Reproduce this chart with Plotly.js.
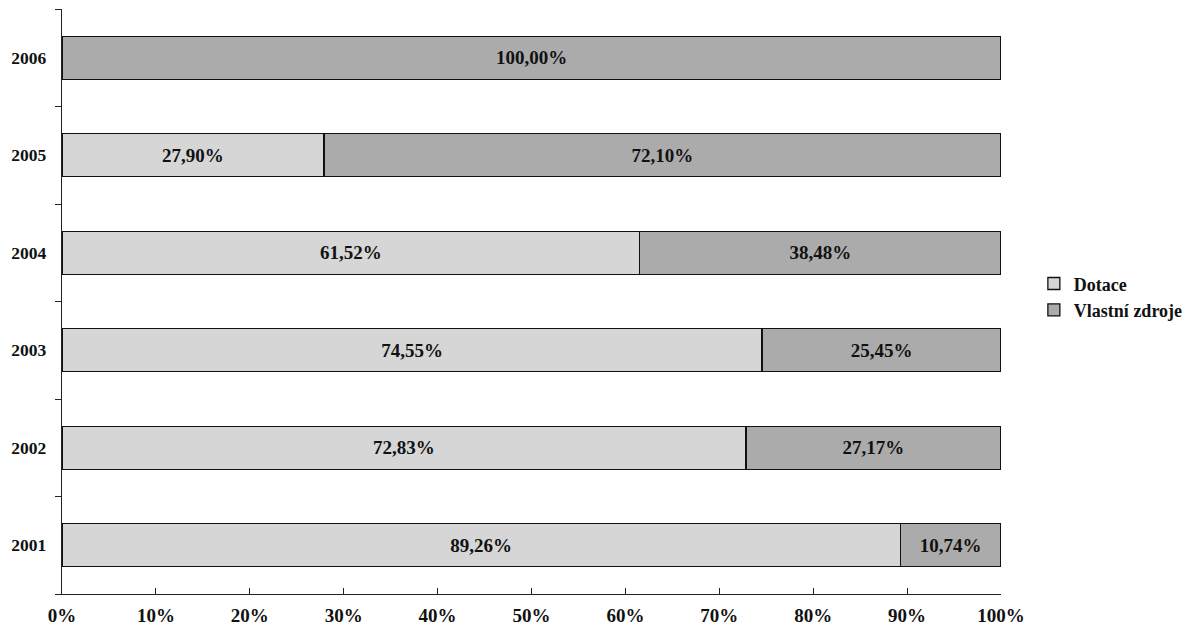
<!DOCTYPE html>
<html><head><meta charset="utf-8">
<script src="https://cdn.plot.ly/plotly-3.0.1.min.js"></script>
<style>body{margin:0;background:#fff}#c{width:1189px;height:626px}</style>
</head><body><div id="c"></div>
<script>
const years = ['2001','2002','2003','2004','2005','2006'];
const dotace = [89.26, 72.83, 74.55, 61.52, 27.90, 0];
const vlastni = [10.74, 27.17, 25.45, 38.48, 72.10, 100.00];
const xTicks = [0,10,20,30,40,50,60,70,80,90,100];
const fmt = v => v.toFixed(2).replace('.', ',') + '%';
const font = {family: 'Liberation Serif, Times New Roman, serif', size: 19, color: '#111'};
const common = {type:'bar', orientation:'h', y: years, textposition:'inside', insidetextanchor:'middle',
  textfont: {family: font.family, size: 19, color: '#111'}, hoverinfo:'skip', constraintext:'none'};
const traces = [
  Object.assign({}, common, {name:'<b>Dotace</b>', x: dotace, text: dotace.map(v => v > 0 ? '<b>'+fmt(v)+'</b>' : ''),
    marker:{color:'#d6d6d6', line:{color:'#111', width:1.3}}}),
  Object.assign({}, common, {name:'<b>Vlastní zdroje</b>', x: vlastni, text: vlastni.map(v => v > 0 ? '<b>'+fmt(v)+'</b>' : ''),
    marker:{color:'#ababab', line:{color:'#111', width:1.3}}})
];
const layout = {
  width:1189, height:626, barmode:'stack', bargap:0.56,
  margin:{l:62, r:188, t:9, b:32, autoexpand:false},
  paper_bgcolor:'#fff', plot_bgcolor:'#fff',
  font: font,
  showlegend:true,
  legend:{x:1.035, y:0.508, xanchor:'left', yanchor:'middle', font:{family:font.family, size:18, color:'#111'},
    traceorder:'normal', itemwidth:30},
  xaxis:{range:[0,100], tickvals:xTicks, ticktext:xTicks.map(v => '<b>'+v+'%</b>'),
    showgrid:false, zeroline:false, showline:true, linecolor:'#222', linewidth:1.2,
    ticks:'inside', ticklen:6, tickcolor:'#222', tickfont:{family:font.family, size:19, color:'#111'},
    ticklabelstandoff:4, automargin:false},
  yaxis:{type:'category', categoryarray: years, ticktext: years.map(y => '<b>'+y+'</b>'), tickvals: years,
    showgrid:false, zeroline:false, showline:true, linecolor:'#222', linewidth:1.2,
    ticks:'outside', tickson:'boundaries', ticklen:6, tickcolor:'#222',
    tickfont:{family:font.family, size:17.5, color:'#111'}, ticklabelstandoff:11, automargin:false}
};
Plotly.newPlot('c', traces, layout, {displayModeBar:false, staticPlot:true});
</script></body></html>
